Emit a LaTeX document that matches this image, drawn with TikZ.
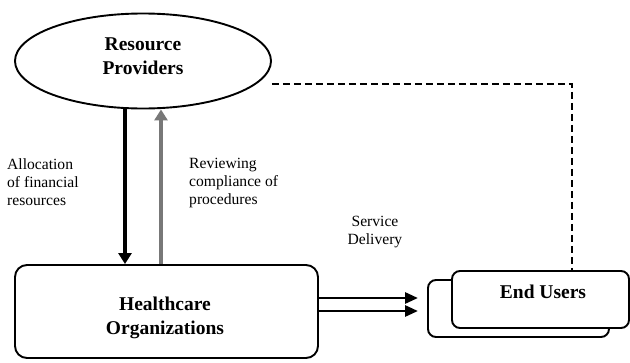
\documentclass[tikz,border=0pt]{standalone}
\usepackage{fontspec}
\setmainfont{Liberation Serif}
\usetikzlibrary{shapes.geometric,arrows.meta}
\definecolor{revgray}{RGB}{120,120,120}
\begin{document}
\begin{tikzpicture}[x=1pt,y=-1pt,
  bord/.style={draw=black,line width=1.9pt},
  boldtxt/.style={font=\fontsize{19.5}{24}\selectfont\bfseries,align=center,inner sep=0},
  lbl/.style={font=\fontsize{15.6}{18}\selectfont,align=left,inner sep=0,anchor=north west},
  arr/.style={line width=3.4pt,-{Triangle[length=11pt,width=13pt]}},
  sarr/.style={line width=2.8pt,-{Triangle[length=13pt,width=11pt]}},
  dsh/.style={line width=2.8pt,dash pattern=on 7pt off 4pt}]
\useasboundingbox (0,0) rectangle (630,362);
% Resource Providers
\node[ellipse,bord,minimum width=256pt,minimum height=95pt,inner sep=0] (rp) at (143,61) {};
\node[boldtxt] (rpt) at (143,56) {Resource\\Providers};
% Healthcare Organizations
\node[rectangle,rounded corners=12pt,bord,minimum width=303pt,minimum height=93pt,inner sep=0] (hc) at (166.5,311.5) {};
\node[boldtxt] (hct) at (165,318) {Healthcare\\Organizations};
% End Users
\node[rectangle,rounded corners=8pt,bord,fill=white,minimum width=181pt,minimum height=57pt,inner sep=0] (eub) at (518.5,308.5) {};
\node[rectangle,rounded corners=8pt,bord,fill=white,minimum width=177pt,minimum height=57pt,inner sep=0] (euf) at (540.5,299.5) {};
\node[boldtxt] (eut) at (543,292) {End Users};
% vertical arrows
\draw[arr,black] ([xshift=-18pt]rp.south) -- ([xshift=-18pt]rp.south |- hc.north);
\draw[arr,revgray] ([xshift=18pt]rp.south |- hc.north) -- ([xshift=18pt]rp.south);
% dashed feedback
\coordinate (dc) at (572,84);
\draw[dsh] (rp.east |- dc) -- (dc) -- (dc |- euf.north);
% service delivery arrows
\coordinate (s1) at (418,298);
\coordinate (s2) at (418,311);
\draw[sarr] (hc.east |- s1) -- (s1);
\draw[sarr] (hc.east |- s2) -- (s2);
% labels
\node[lbl] (l1) at (7,158) {Allocation\\of financial\\resources};
\node[lbl] (l2) at (189,158) {Reviewing\\compliance of\\procedures};
\node[lbl,align=center,anchor=center] (l3) at (375,232) {Service\\Delivery};
\end{tikzpicture}
\end{document}
